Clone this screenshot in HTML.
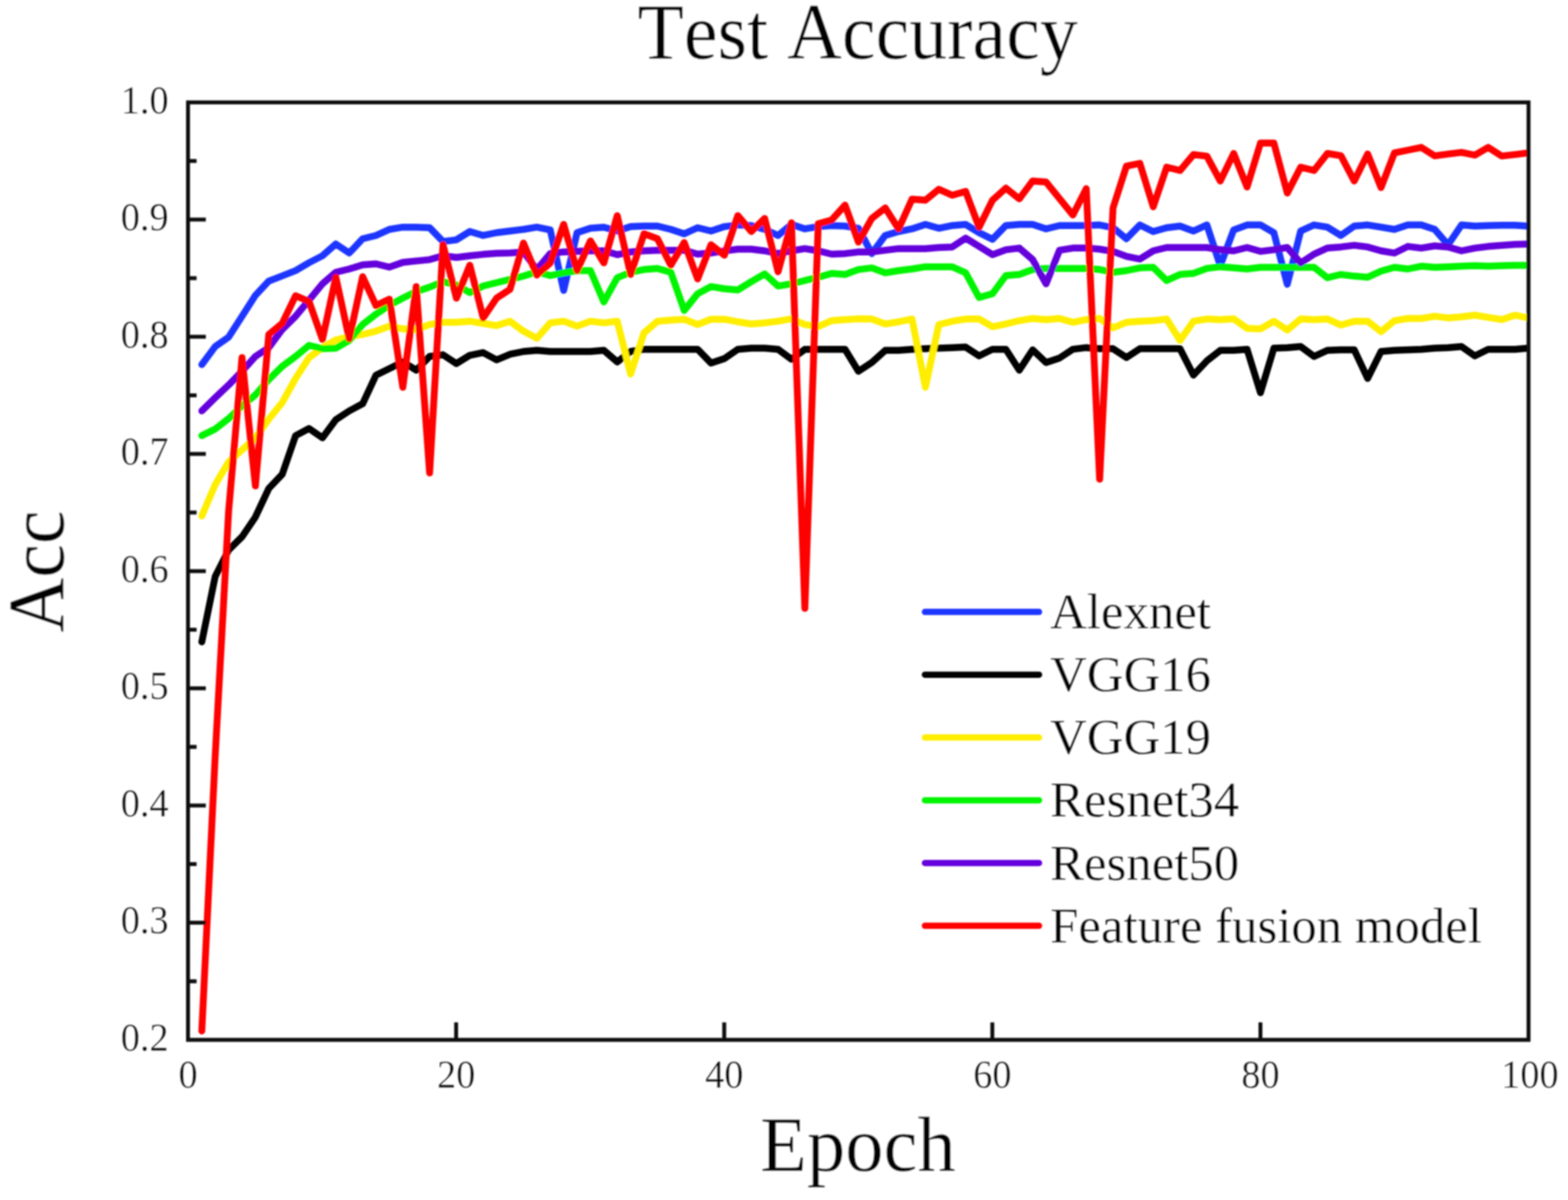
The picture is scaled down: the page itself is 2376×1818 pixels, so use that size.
<!DOCTYPE html>
<html lang="en"><head><meta charset="utf-8"><title>Test Accuracy</title>
<style>
html,body{margin:0;padding:0;background:#fff;}
body{width:2376px;height:1818px;overflow:hidden;}
svg{display:block;}
text{font-family:"Liberation Serif","Times New Roman",serif;fill:#000;font-kerning:none;}
.thin{stroke:#fff;paint-order:fill stroke;stroke-linejoin:round;}
.ln{fill:none;stroke-width:10.4;stroke-linejoin:round;stroke-linecap:round;}
</style></head><body>
<svg xmlns="http://www.w3.org/2000/svg" width="2376" height="1818" viewBox="0 0 2376 1818">
<defs><clipPath id="pc"><rect x="284.9" y="155.1" width="2031.3" height="1420.3"/></clipPath>
<filter id="soft" x="-5%" y="-5%" width="110%" height="110%"><feGaussianBlur stdDeviation="0.9"/></filter></defs>
<rect x="0" y="0" width="2376" height="1818" fill="#ffffff"/>
<g filter="url(#soft)">
<text transform="translate(1299.60 88.60) scale(1.0000 1.0430)" font-size="115" text-anchor="middle" class="thin" stroke-width="0.5">Test Accuracy</text>
<text transform="translate(96.40 865.70) rotate(-90) scale(1.0000 1.0570)" font-size="115" text-anchor="middle" class="thin" stroke-width="0.5">Acc</text>
<text transform="translate(1300.00 1774.50) scale(1.0097 1.0300)" font-size="115" text-anchor="middle" class="thin" stroke-width="0.5">Epoch</text>
<text transform="translate(255.50 1592.00) scale(1.0000 1.0460)" font-size="58" text-anchor="end" class="thin" stroke-width="0.4">0.2</text>
<text transform="translate(255.50 1414.46) scale(1.0000 1.0460)" font-size="58" text-anchor="end" class="thin" stroke-width="0.4">0.3</text>
<text transform="translate(255.50 1236.92) scale(1.0000 1.0460)" font-size="58" text-anchor="end" class="thin" stroke-width="0.4">0.4</text>
<text transform="translate(255.50 1059.39) scale(1.0000 1.0460)" font-size="58" text-anchor="end" class="thin" stroke-width="0.4">0.5</text>
<text transform="translate(255.50 881.85) scale(1.0000 1.0460)" font-size="58" text-anchor="end" class="thin" stroke-width="0.4">0.6</text>
<text transform="translate(255.50 704.31) scale(1.0000 1.0460)" font-size="58" text-anchor="end" class="thin" stroke-width="0.4">0.7</text>
<text transform="translate(255.50 526.77) scale(1.0000 1.0460)" font-size="58" text-anchor="end" class="thin" stroke-width="0.4">0.8</text>
<text transform="translate(255.50 349.24) scale(1.0000 1.0460)" font-size="58" text-anchor="end" class="thin" stroke-width="0.4">0.9</text>
<text transform="translate(255.50 171.70) scale(1.0000 1.0460)" font-size="58" text-anchor="end" class="thin" stroke-width="0.4">1.0</text>
<text transform="translate(284.90 1648.00) scale(1.0000 1.0460)" font-size="58" text-anchor="middle" class="thin" stroke-width="0.4">0</text>
<text transform="translate(691.16 1648.00) scale(1.0000 1.0460)" font-size="58" text-anchor="middle" class="thin" stroke-width="0.4">20</text>
<text transform="translate(1097.42 1648.00) scale(1.0000 1.0460)" font-size="58" text-anchor="middle" class="thin" stroke-width="0.4">40</text>
<text transform="translate(1503.68 1648.00) scale(1.0000 1.0460)" font-size="58" text-anchor="middle" class="thin" stroke-width="0.4">60</text>
<text transform="translate(1909.94 1648.00) scale(1.0000 1.0460)" font-size="58" text-anchor="middle" class="thin" stroke-width="0.4">80</text>
<text transform="translate(2318.20 1648.00) scale(1.0000 1.0460)" font-size="58" text-anchor="middle" class="thin" stroke-width="0.4">100</text>
<g clip-path="url(#pc)">
<polyline class="ln" stroke="#1c36ff" points="305.8,552.3 326.1,525.0 346.4,510.8 366.7,479.2 387.0,447.5 407.3,425.8 427.6,418.0 447.9,410.0 468.3,398.0 488.6,387.5 508.9,369.7 529.2,383.3 549.5,361.7 569.8,356.7 590.1,347.5 610.4,344.2 630.7,344.2 651.0,345.0 671.3,365.8 691.6,363.3 711.9,350.8 732.2,356.7 752.5,352.5 772.8,350.0 793.2,347.5 813.5,344.2 833.8,348.3 854.1,440.0 874.4,352.5 894.7,345.8 915.0,344.2 935.3,350.0 955.6,343.3 975.9,342.5 996.2,342.5 1016.5,347.5 1036.8,354.2 1057.1,345.0 1077.4,350.0 1097.7,343.3 1118.0,340.8 1138.4,341.7 1158.7,347.5 1179.0,356.7 1199.3,340.0 1219.6,346.7 1239.9,343.3 1260.2,341.7 1280.5,342.5 1300.8,345.8 1321.1,384.2 1341.4,356.7 1361.7,350.8 1382.0,346.7 1402.3,340.0 1422.6,345.8 1442.9,341.7 1463.2,340.0 1483.6,352.5 1503.9,362.5 1524.2,341.7 1544.5,340.0 1564.8,340.0 1585.1,346.7 1605.4,341.7 1625.7,341.7 1646.0,341.7 1666.3,340.8 1686.6,345.0 1706.9,361.7 1727.2,340.8 1747.5,350.8 1767.8,345.0 1788.1,342.5 1808.5,350.0 1828.8,340.8 1849.1,402.5 1869.4,348.3 1889.7,340.8 1910.0,340.8 1930.3,352.5 1950.6,430.8 1970.9,350.0 1991.2,340.8 2011.5,344.2 2031.8,356.7 2052.1,342.5 2072.4,340.8 2092.7,344.2 2113.0,347.5 2133.3,340.8 2153.7,340.8 2174.0,347.5 2194.3,370.8 2214.6,340.8 2234.9,342.5 2255.2,341.7 2275.5,341.3 2295.8,341.3 2316.1,342.5"/>
<polyline class="ln" stroke="#000000" points="305.8,972.5 326.1,873.3 346.4,833.3 366.7,813.3 387.0,783.3 407.3,740.0 427.6,718.7 447.9,660.0 468.3,649.2 488.6,663.3 508.9,635.8 529.2,622.5 549.5,611.7 569.8,568.3 590.1,558.3 610.4,548.3 630.7,560.8 651.0,540.0 671.3,537.5 691.6,550.8 711.9,538.3 732.2,534.2 752.5,545.3 772.8,536.7 793.2,532.5 813.5,530.8 833.8,532.5 854.1,532.5 874.4,532.5 894.7,532.5 915.0,530.8 935.3,548.3 955.6,532.5 975.9,529.2 996.2,529.2 1016.5,529.2 1036.8,529.2 1057.1,529.2 1077.4,550.0 1097.7,543.3 1118.0,529.2 1138.4,527.5 1158.7,527.5 1179.0,529.2 1199.3,544.2 1219.6,529.2 1239.9,529.2 1260.2,529.2 1280.5,529.2 1300.8,562.5 1321.1,549.2 1341.4,530.8 1361.7,530.8 1382.0,529.2 1402.3,528.3 1422.6,527.5 1442.9,526.7 1463.2,525.8 1483.6,539.2 1503.9,529.2 1524.2,529.2 1544.5,560.8 1564.8,530.0 1585.1,549.2 1605.4,542.5 1625.7,529.2 1646.0,526.7 1666.3,528.3 1686.6,528.3 1706.9,541.7 1727.2,528.3 1747.5,528.3 1767.8,528.3 1788.1,528.3 1808.5,568.3 1828.8,546.7 1849.1,530.8 1869.4,530.8 1889.7,529.2 1910.0,595.0 1930.3,527.5 1950.6,526.7 1970.9,525.0 1991.2,540.0 2011.5,530.8 2031.8,530.0 2052.1,530.0 2072.4,573.3 2092.7,532.5 2113.0,530.8 2133.3,530.0 2153.7,529.2 2174.0,527.5 2194.3,526.7 2214.6,525.0 2234.9,539.2 2255.2,529.2 2275.5,529.2 2295.8,529.2 2316.1,527.5"/>
<polyline class="ln" stroke="#ffee06" points="305.8,781.7 326.1,734.2 346.4,700.0 366.7,681.7 387.0,663.3 407.3,635.0 427.6,610.0 447.9,573.3 468.3,541.7 488.6,526.7 508.9,515.0 529.2,510.0 549.5,506.7 569.8,501.7 590.1,494.2 610.4,498.3 630.7,499.2 651.0,491.7 671.3,488.3 691.6,488.3 711.9,486.7 732.2,490.0 752.5,493.3 772.8,486.7 793.2,501.7 813.5,512.5 833.8,489.2 854.1,486.7 874.4,494.2 894.7,486.7 915.0,489.2 935.3,486.7 955.6,566.7 975.9,504.2 996.2,486.7 1016.5,485.0 1036.8,483.7 1057.1,491.7 1077.4,483.7 1097.7,483.7 1118.0,487.5 1138.4,490.8 1158.7,489.2 1179.0,486.7 1199.3,483.0 1219.6,491.7 1239.9,494.7 1260.2,485.8 1280.5,484.2 1300.8,483.0 1321.1,483.3 1341.4,490.8 1361.7,487.5 1382.0,483.3 1402.3,586.7 1422.6,491.7 1442.9,486.7 1463.2,483.3 1483.6,483.3 1503.9,495.0 1524.2,490.8 1544.5,485.8 1564.8,482.5 1585.1,484.2 1605.4,482.5 1625.7,488.3 1646.0,484.2 1666.3,482.5 1686.6,496.7 1706.9,488.3 1727.2,486.7 1747.5,485.8 1767.8,483.3 1788.1,515.8 1808.5,486.7 1828.8,483.3 1849.1,484.2 1869.4,483.0 1889.7,497.5 1910.0,498.3 1930.3,486.7 1950.6,500.0 1970.9,483.3 1991.2,484.2 2011.5,483.3 2031.8,492.5 2052.1,486.7 2072.4,486.7 2092.7,502.5 2113.0,485.8 2133.3,482.5 2153.7,482.5 2174.0,479.2 2194.3,481.7 2214.6,480.0 2234.9,477.5 2255.2,480.8 2275.5,484.2 2295.8,477.5 2316.1,481.7"/>
<polyline class="ln" stroke="#06f406" points="305.8,660.0 326.1,650.0 346.4,634.2 366.7,615.0 387.0,598.3 407.3,575.0 427.6,555.0 447.9,540.0 468.3,523.3 488.6,528.3 508.9,527.5 529.2,515.8 549.5,491.7 569.8,475.8 590.1,462.5 610.4,451.7 630.7,441.7 651.0,435.0 671.3,426.7 691.6,431.7 711.9,443.3 732.2,433.3 752.5,428.3 772.8,423.3 793.2,418.3 813.5,411.7 833.8,417.5 854.1,413.3 874.4,410.0 894.7,410.0 915.0,457.5 935.3,420.8 955.6,412.5 975.9,408.3 996.2,406.7 1016.5,412.5 1036.8,470.3 1057.1,445.0 1077.4,434.2 1097.7,437.5 1118.0,439.2 1138.4,426.7 1158.7,415.0 1179.0,433.3 1199.3,430.0 1219.6,425.0 1239.9,420.0 1260.2,414.2 1280.5,415.8 1300.8,408.3 1321.1,405.8 1341.4,413.3 1361.7,410.0 1382.0,407.5 1402.3,404.2 1422.6,404.2 1442.9,404.2 1463.2,413.3 1483.6,450.8 1503.9,445.0 1524.2,417.5 1544.5,415.8 1564.8,408.3 1585.1,406.7 1605.4,406.7 1625.7,406.7 1646.0,406.7 1666.3,408.3 1686.6,412.5 1706.9,410.0 1727.2,405.8 1747.5,405.0 1767.8,425.0 1788.1,415.8 1808.5,414.2 1828.8,406.7 1849.1,404.2 1869.4,405.8 1889.7,407.5 1910.0,405.0 1930.3,405.0 1950.6,405.0 1970.9,405.0 1991.2,405.0 2011.5,420.8 2031.8,415.8 2052.1,418.3 2072.4,420.0 2092.7,410.8 2113.0,405.0 2133.3,407.5 2153.7,403.3 2174.0,405.0 2194.3,404.2 2214.6,403.3 2234.9,402.5 2255.2,403.3 2275.5,402.5 2295.8,402.0 2316.1,402.0"/>
<polyline class="ln" stroke="#6400dc" points="305.8,622.5 326.1,602.5 346.4,583.3 366.7,562.5 387.0,540.0 407.3,526.7 427.6,499.2 447.9,479.2 468.3,454.7 488.6,430.0 508.9,412.5 529.2,407.5 549.5,401.3 569.8,399.7 590.1,404.7 610.4,397.5 630.7,395.3 651.0,393.3 671.3,387.5 691.6,390.0 711.9,387.5 732.2,385.3 752.5,383.7 772.8,383.3 793.2,381.7 813.5,408.3 833.8,384.2 854.1,381.7 874.4,380.8 894.7,380.0 915.0,380.0 935.3,385.8 955.6,381.7 975.9,380.0 996.2,379.2 1016.5,379.2 1036.8,379.2 1057.1,385.0 1077.4,383.3 1097.7,380.2 1118.0,377.5 1138.4,377.5 1158.7,380.0 1179.0,384.2 1199.3,380.0 1219.6,376.7 1239.9,380.0 1260.2,385.0 1280.5,384.2 1300.8,381.7 1321.1,381.7 1341.4,379.2 1361.7,376.7 1382.0,376.7 1402.3,376.7 1422.6,375.0 1442.9,374.2 1463.2,360.8 1483.6,373.3 1503.9,385.8 1524.2,378.3 1544.5,375.8 1564.8,393.3 1585.1,430.0 1605.4,379.2 1625.7,375.8 1646.0,375.8 1666.3,377.5 1686.6,380.8 1706.9,388.3 1727.2,392.5 1747.5,380.0 1767.8,375.0 1788.1,375.0 1808.5,375.0 1828.8,375.0 1849.1,378.3 1869.4,380.0 1889.7,375.0 1910.0,380.8 1930.3,378.3 1950.6,375.0 1970.9,398.3 1991.2,385.0 2011.5,375.8 2031.8,374.2 2052.1,371.7 2072.4,374.2 2092.7,380.0 2113.0,383.3 2133.3,373.3 2153.7,375.8 2174.0,372.5 2194.3,374.2 2214.6,380.0 2234.9,375.8 2255.2,373.3 2275.5,371.7 2295.8,370.3 2316.1,369.7"/>
<polyline class="ln" stroke="#ff0000" points="305.8,1562.0 326.1,1145.0 346.4,775.0 366.7,541.7 387.0,736.3 407.3,506.7 427.6,490.0 447.9,448.0 468.3,456.7 488.6,514.2 508.9,420.0 529.2,513.3 549.5,419.2 569.8,463.0 590.1,453.3 610.4,586.7 630.7,434.2 651.0,716.5 671.3,370.8 691.6,451.7 711.9,401.7 732.2,481.7 752.5,451.7 772.8,438.3 793.2,368.3 813.5,416.7 833.8,398.3 854.1,340.0 874.4,410.0 894.7,365.0 915.0,398.3 935.3,326.7 955.6,415.8 975.9,354.2 996.2,361.7 1016.5,401.7 1036.8,367.5 1057.1,422.5 1077.4,370.8 1097.7,386.7 1118.0,326.7 1138.4,350.7 1158.7,330.9 1179.0,411.7 1199.3,337.5 1219.6,921.7 1239.9,339.0 1260.2,333.3 1280.5,310.8 1300.8,366.7 1321.1,330.8 1341.4,315.0 1361.7,346.7 1382.0,301.7 1402.3,303.3 1422.6,286.7 1442.9,295.8 1463.2,290.0 1483.6,344.2 1503.9,303.3 1524.2,285.0 1544.5,301.3 1564.8,274.2 1585.1,275.8 1605.4,300.8 1625.7,325.8 1646.0,285.8 1666.3,726.0 1686.6,315.0 1706.9,251.7 1727.2,247.5 1747.5,313.3 1767.8,253.3 1788.1,258.3 1808.5,234.2 1828.8,236.7 1849.1,274.2 1869.4,232.5 1889.7,283.3 1910.0,216.7 1930.3,216.7 1950.6,292.5 1970.9,253.3 1991.2,258.3 2011.5,232.5 2031.8,235.8 2052.1,274.2 2072.4,233.3 2092.7,284.2 2113.0,231.7 2133.3,227.5 2153.7,223.3 2174.0,236.2 2194.3,233.3 2214.6,230.8 2234.9,235.0 2255.2,223.3 2275.5,236.3 2295.8,234.2 2316.1,231.7"/>
</g>
<g stroke="#0c0c0c" stroke-width="5.9" fill="none" stroke-linecap="butt">
<rect x="284.9" y="155.1" width="2031.3" height="1420.3"/>
<line x1="284.9" y1="1486.63" x2="297.9" y2="1486.63"/>
<line x1="284.9" y1="1397.86" x2="311.9" y2="1397.86"/>
<line x1="284.9" y1="1309.09" x2="297.9" y2="1309.09"/>
<line x1="284.9" y1="1220.32" x2="311.9" y2="1220.32"/>
<line x1="284.9" y1="1131.56" x2="297.9" y2="1131.56"/>
<line x1="284.9" y1="1042.79" x2="311.9" y2="1042.79"/>
<line x1="284.9" y1="954.02" x2="297.9" y2="954.02"/>
<line x1="284.9" y1="865.25" x2="311.9" y2="865.25"/>
<line x1="284.9" y1="776.48" x2="297.9" y2="776.48"/>
<line x1="284.9" y1="687.71" x2="311.9" y2="687.71"/>
<line x1="284.9" y1="598.94" x2="297.9" y2="598.94"/>
<line x1="284.9" y1="510.17" x2="311.9" y2="510.17"/>
<line x1="284.9" y1="421.41" x2="297.9" y2="421.41"/>
<line x1="284.9" y1="332.64" x2="311.9" y2="332.64"/>
<line x1="284.9" y1="243.87" x2="297.9" y2="243.87"/>
<line x1="691.16" y1="1575.4" x2="691.16" y2="1548.9"/>
<line x1="1097.42" y1="1575.4" x2="1097.42" y2="1548.9"/>
<line x1="1503.68" y1="1575.4" x2="1503.68" y2="1548.9"/>
<line x1="1909.94" y1="1575.4" x2="1909.94" y2="1548.9"/>
</g>
<line class="ln" stroke="#1c36ff" x1="1401.5" y1="927.1" x2="1574.5" y2="927.1" style="stroke-width:9.5"/>
<text transform="translate(1591.20 952.10)" font-size="77" text-anchor="start" class="thin" stroke-width="0.4">Alexnet</text>
<line class="ln" stroke="#000000" x1="1401.5" y1="1022.2" x2="1574.5" y2="1022.2" style="stroke-width:9.5"/>
<text transform="translate(1591.20 1047.20)" font-size="77" text-anchor="start" class="thin" stroke-width="0.4">VGG16</text>
<line class="ln" stroke="#ffee06" x1="1401.5" y1="1117.3" x2="1574.5" y2="1117.3" style="stroke-width:9.5"/>
<text transform="translate(1591.20 1142.30)" font-size="77" text-anchor="start" class="thin" stroke-width="0.4">VGG19</text>
<line class="ln" stroke="#06f406" x1="1401.5" y1="1212.4" x2="1574.5" y2="1212.4" style="stroke-width:9.5"/>
<text transform="translate(1591.20 1237.40)" font-size="77" text-anchor="start" class="thin" stroke-width="0.4">Resnet34</text>
<line class="ln" stroke="#6400dc" x1="1401.5" y1="1307.5" x2="1574.5" y2="1307.5" style="stroke-width:9.5"/>
<text transform="translate(1591.20 1332.50)" font-size="77" text-anchor="start" class="thin" stroke-width="0.4">Resnet50</text>
<line class="ln" stroke="#ff0000" x1="1401.5" y1="1402.6" x2="1574.5" y2="1402.6" style="stroke-width:9.5"/>
<text transform="translate(1591.20 1427.60)" font-size="77" text-anchor="start" class="thin" stroke-width="0.4">Feature fusion model</text>
</g>
</svg>
</body></html>
